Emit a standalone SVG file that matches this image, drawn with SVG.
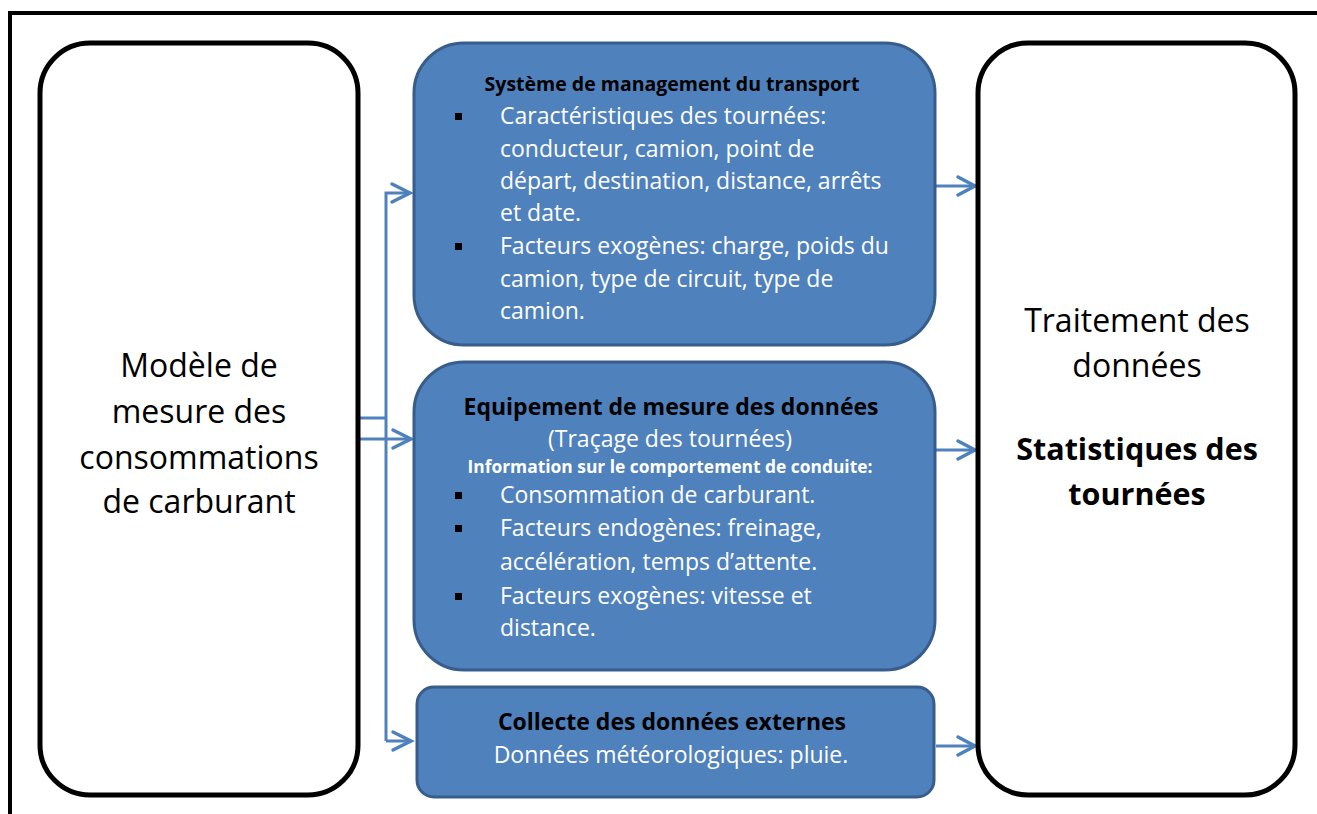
<svg xmlns="http://www.w3.org/2000/svg" width="1317" height="814" viewBox="0 0 1317 814">
<style>
.frame{fill:none;stroke:#000;stroke-width:4}
.wbox{fill:#fff;stroke:#000;stroke-width:5}
.bbox{fill:#4F81BD;stroke:#385D8A;stroke-width:3}
.conn{fill:none;stroke:#4F81BD;stroke-width:3;stroke-linejoin:miter}
.chev{fill:none;stroke:#4F81BD;stroke-width:3.5;stroke-linecap:round;stroke-linejoin:miter}
text{font-family:"Open Sans","Liberation Sans",sans-serif}
.big{font-size:32px;fill:#000;text-anchor:middle}
.bigb{font-size:30.5px;font-weight:bold;fill:#000;text-anchor:middle}
.t1{font-size:19.5px;font-weight:bold;fill:#000;text-anchor:middle}
.t2{font-size:23px;font-weight:bold;fill:#000;text-anchor:middle}
.body{font-size:23px;fill:#fff}
.bodyc{font-size:23px;fill:#fff;text-anchor:middle}
.info{font-size:17.4px;font-weight:bold;fill:#fff;text-anchor:middle}
.bul{fill:#000}
</style>
<rect class="frame" x="10" y="13" width="1330" height="830"/>
<g id="connectors">
<path class="conn" d="M386,741 V193 H410"/>
<path class="chev" d="M392,184 L410,193 L392,202"/>
<path class="conn" d="M358,418 H386"/>
<path class="conn" d="M358,439 H410"/>
<path class="chev" d="M393,430 L411,439 L393,448"/>
<path class="conn" d="M386,741 H410"/>
<path class="chev" d="M393,732 L411,741 L393,750"/>
<path class="conn" d="M936,186 H975"/>
<path class="chev" d="M958,177 L975,186 L958,195"/>
<path class="conn" d="M936,450 H975"/>
<path class="chev" d="M958,441 L975,450 L958,459"/>
<path class="conn" d="M936,746 H975"/>
<path class="chev" d="M958,737 L975,746 L958,755"/>
</g>
<g id="model">
<rect class="wbox" x="40" y="43" width="318" height="752" rx="50" ry="50"/>
<text class="big" x="199" y="377">Modèle de</text>
<text class="big" x="199" y="423">mesure des</text>
<text class="big" x="199" y="469">consommations</text>
<text class="big" x="199" y="513">de carburant</text>
</g>
<g id="tms">
<rect class="bbox" x="414" y="43" width="521" height="302" rx="50" ry="50"/>
<text class="t1" x="672" y="91">Système de management du transport</text>
<rect class="bul" x="455" y="113" width="7" height="7"/>
<text class="body" x="500" y="124">Caractéristiques des tournées:</text>
<text class="body" x="500" y="157">conducteur, camion, point de</text>
<text class="body" x="500" y="189">départ, destination, distance, arrêts</text>
<text class="body" x="500" y="221">et date.</text>
<rect class="bul" x="455" y="243" width="7" height="7"/>
<text class="body" x="500" y="254">Facteurs exogènes: charge, poids du</text>
<text class="body" x="500" y="287">camion, type de circuit, type de</text>
<text class="body" x="500" y="319">camion.</text>
</g>
<g id="equipement">
<rect class="bbox" x="414" y="362" width="521" height="308" rx="50" ry="50"/>
<text class="t2" x="671" y="415">Equipement de mesure des données</text>
<text class="bodyc" x="670" y="447">(Traçage des tournées)</text>
<text class="info" x="670" y="473">Information sur le comportement de conduite:</text>
<rect class="bul" x="455" y="492" width="7" height="7"/>
<text class="body" x="500" y="503">Consommation de carburant.</text>
<rect class="bul" x="455" y="525" width="7" height="7"/>
<text class="body" x="500" y="536">Facteurs endogènes: freinage,</text>
<text class="body" x="500" y="570">accélération, temps d’attente.</text>
<rect class="bul" x="455" y="593" width="7" height="7"/>
<text class="body" x="500" y="604">Facteurs exogènes: vitesse et</text>
<text class="body" x="500" y="636">distance.</text>
</g>
<g id="collecte">
<rect class="bbox" x="417" y="687" width="517" height="110" rx="17" ry="17"/>
<text class="t2" x="672" y="730">Collecte des données externes</text>
<text class="bodyc" x="671" y="763">Données météorologiques: pluie.</text>
</g>
<g id="traitement">
<rect class="wbox" x="978" y="43" width="317" height="752" rx="50" ry="50"/>
<text class="big" x="1137" y="332">Traitement des</text>
<text class="big" x="1137" y="377">données</text>
<text class="bigb" x="1137" y="460">Statistiques des</text>
<text class="bigb" x="1137" y="505">tournées</text>
</g>
</svg>
